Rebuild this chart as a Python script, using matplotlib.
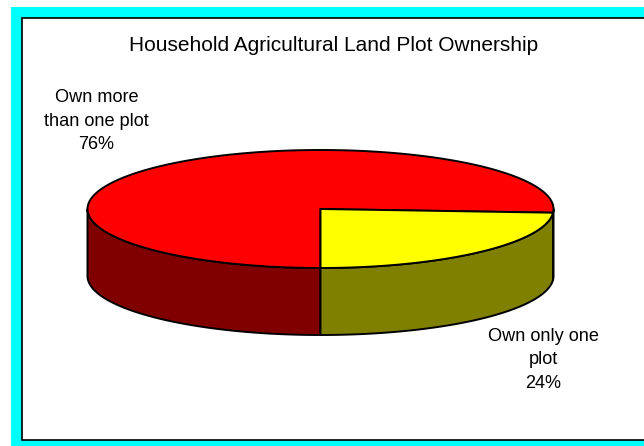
import numpy as np
import matplotlib
matplotlib.use("Agg")
import matplotlib.pyplot as plt
import matplotlib.patches as patches

plt.rcParams['font.family'] = ['Liberation Sans', 'DejaVu Sans']

title = 'Household Agricultural Land Plot Ownership'
slice_labels = ['Own more\nthan one plot', 'Own only one\nplot']
shares = [76, 24]
top_colors = ['#ff0000', '#ffff00']
side_colors = ['#800000', '#808000']

# pie geometry, in pixel units of the canvas
cx, cy = 320.5, 209.0
rx, ry = 233.0, 59.0
depth = 67.0
start_angle = 270.0  # first slice starts at 6 o'clock, clockwise
label_pos = [(96.5, 149.0), (543.0, 388.0)]  # baseline of the last line
line_step = 23.5


def rim(t, dy=0.0):
    t = np.radians(t)
    return np.column_stack([cx + rx * np.cos(t), cy - ry * np.sin(t) + dy])


fig = plt.figure(figsize=(6.44, 4.46), dpi=100)
ax = fig.add_axes([0, 0, 1, 1])
ax.set_xlim(0, 644)
ax.set_ylim(446, 0)
ax.axis('off')

# cyan frame with the white plotting panel inside
ax.add_patch(patches.Rectangle((11, 7), 700, 500, facecolor='#00ffff',
                               edgecolor='none', zorder=0))
ax.add_patch(patches.Rectangle((22.5, 17.5), 700, 422, facecolor='white',
                               edgecolor='black', linewidth=1.2, zorder=1))

# slice angles, going clockwise
edges = start_angle - np.concatenate([[0], np.cumsum(shares)]) * 360.0 / sum(shares)
spans = [(edges[i + 1], edges[i]) for i in range(len(shares))]

# visible front walls first
for (lo, hi), col in zip(spans, side_colors):
    for k in (-1, 0, 1):
        a, b = max(lo, 180 + 360 * k), min(hi, 360 + 360 * k)
        if b - a <= 0:
            continue
        t = np.linspace(a, b, 120)
        pts = np.vstack([rim(t), rim(t[::-1], depth)])
        ax.add_patch(patches.Polygon(pts, closed=True, facecolor=col,
                                     edgecolor='black', linewidth=1.4,
                                     joinstyle='round', zorder=2))

# top faces
for (lo, hi), col in zip(spans, top_colors):
    t = np.linspace(lo, hi, 300)
    pts = np.vstack([[cx, cy], rim(t)])
    ax.add_patch(patches.Polygon(pts, closed=True, facecolor=col,
                                 edgecolor='black', linewidth=1.4,
                                 joinstyle='round', zorder=3))

ax.text(333.5, 50.7, title, ha='center', va='baseline', fontsize=15)

# labels, one line at a time so the line pitch stays even
for lab, val, (x, y) in zip(slice_labels, shares, label_pos):
    lines = f'{lab}\n{val}%'.split('\n')
    for i, line in enumerate(lines):
        ax.text(x, y - (len(lines) - 1 - i) * line_step, line,
                ha='center', va='baseline', fontsize=13.1)

fig.savefig('out.png', dpi=100)
